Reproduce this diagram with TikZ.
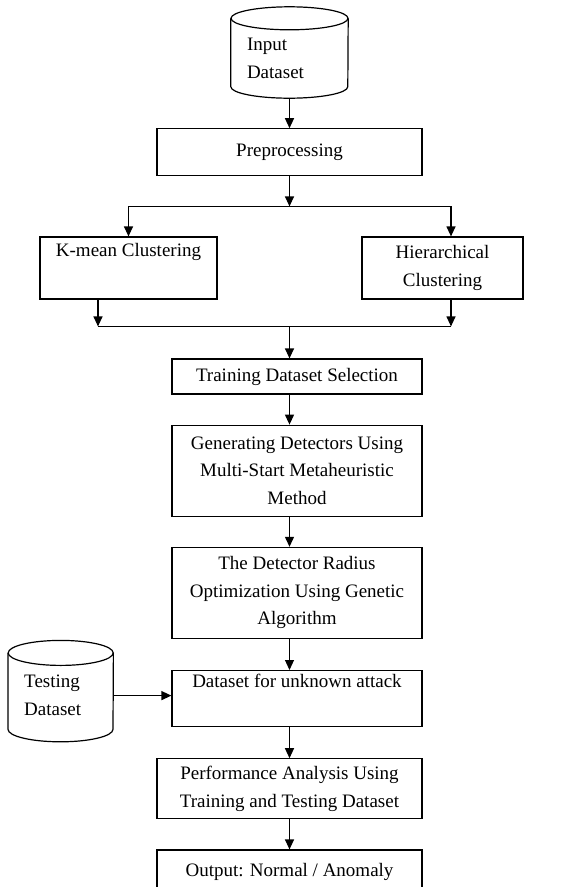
\documentclass[tikz,border=0pt]{standalone}
\usepackage{fontspec}
\setmainfont{Liberation Serif}
\usepackage{tikz}
\usetikzlibrary{calc, arrows.meta, positioning}

\begin{document}
\begin{tikzpicture}[x=1pt, y=-1pt, >={Triangle[length=10pt,width=9pt]},
			process/.style={draw, very thick, rectangle, align=center, inner sep=0pt, minimum width=250pt, font=\fontsize{19}{27.5}\selectfont},
			wide/.style={process, minimum width=265pt},
			store/.style={rectangle, inner sep=0pt},
			storetext/.style={align=left, inner sep=0pt, font=\fontsize{19}{27.5}\selectfont}
			]
			\useasboundingbox (0,0) rectangle (575,887);
			\node [store, minimum width=117pt, minimum height=91pt, label={[storetext, xshift=-14pt, yshift=-6pt]center:Input\\Dataset}](in) at (289.5,52.5) {};
			\node [wide, minimum height=47pt](pre) [below=30pt of in] {Preprocessing};
			\node [process, minimum width=177pt, minimum height=62pt](km) [below=60pt of pre, xshift=-161pt] {K-mean Clustering\\ \strut};
			\node [process, minimum width=161pt, minimum height=62pt](hi) [below=60pt of pre, xshift=153pt] {Hierarchical\\Clustering};
			\node [process, minimum height=35pt](train) [below=182pt of pre, xshift=7.5pt] {Training Dataset Selection};
			\node [process, minimum height=91pt](gen) [below=30pt of train] {Generating Detectors Using\\Multi-Start Metaheuristic\\Method};
			\node [process, minimum height=91pt](det) [below=30pt of gen] {The Detector Radius\\Optimization Using Genetic\\Algorithm};
			\node [process, minimum height=56pt](unk) [below=31pt of det] {Dataset for unknown attack\\ \strut};
			\node [store, minimum width=105pt, minimum height=101pt, label={[storetext, xshift=-8pt, yshift=-4pt]center:Testing\\Dataset}](test) [left=58pt of unk, yshift=7.5pt] {};
			\node [wide, minimum height=60pt](perf) [below=31pt of unk, xshift=-7.5pt] {Performance Analysis Using\\Training and Testing Dataset};
			\node [wide, minimum height=44pt](out) [below=30pt of perf] {Output: Normal / Anomaly};

			% the two data stores
			\draw[very thick] ([yshift=-11.5pt]in.north west) -- ([yshift=11.5pt]in.south west) arc[start angle=180, end angle=360, x radius=58.5pt, y radius=11.5pt] -- ([yshift=-11.5pt]in.north east);
			\draw[very thick] ([yshift=-11.5pt]in.north) ellipse[x radius=58.5pt, y radius=11.5pt];
			\draw[very thick] ([yshift=-12.5pt]test.north west) -- ([yshift=12.5pt]test.south west) arc[start angle=180, end angle=360, x radius=52.5pt, y radius=12.5pt] -- ([yshift=-12.5pt]test.north east);
			\draw[very thick] ([yshift=-12.5pt]test.north) ellipse[x radius=52.5pt, y radius=12.5pt];

			\coordinate (split) at ($(pre.south)+(0,30)$);
			\coordinate (merge) at ($(pre.south)+(0,150)$);

			\draw[very thick, black, ->] (in) -- (pre);
			\draw[very thick, black, ->] (pre) -- (split);
			\draw[very thick, black, ->] (split) -| (km);
			\draw[very thick, black, ->] (split) -| ([xshift=8.5pt]hi.north);
			\draw[very thick, black, ->] ([xshift=-30.5pt]km.south) -- ([xshift=-30.5pt]km.south |- merge);
			\draw[very thick, black, ->] ([xshift=8.5pt]hi.south) -- ([xshift=8.5pt]hi.south |- merge);
			\draw[very thick, black] ([xshift=-30.5pt]km.south |- merge) -- ([xshift=8.5pt]hi.south |- merge);
			\draw[very thick, black, ->] (merge) -- (merge |- train.north);
			\draw[very thick, black, ->] (train.south -| merge) -- (gen.north -| merge);
			\draw[very thick, black, ->] (gen.south -| merge) -- (det.north -| merge);
			\draw[very thick, black, ->] (det.south -| merge) -- (unk.north -| merge);
			\draw[very thick, black, ->] ([yshift=-4.5pt]test.east) -- ([yshift=-4.5pt]test.east -| unk.west);
			\draw[very thick, black, ->] (unk.south -| merge) -- (perf.north -| merge);
			\draw[very thick, black, ->] (perf.south -| merge) -- (out.north -| merge);
		\end{tikzpicture}
\end{document}
